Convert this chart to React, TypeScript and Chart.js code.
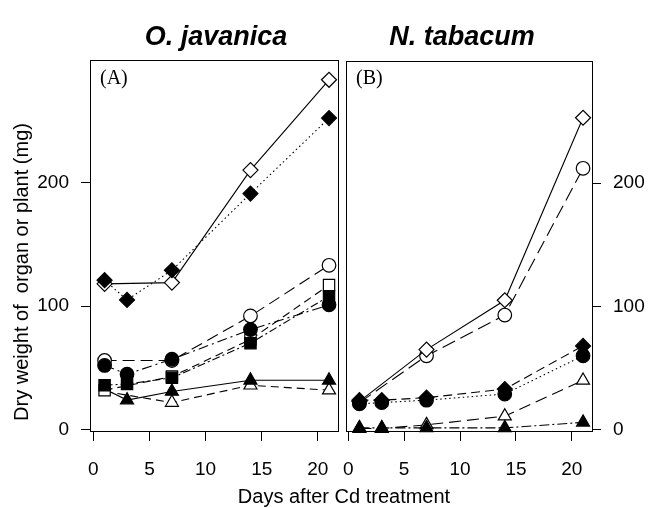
import React, { useEffect, useRef } from "react";
import { Chart, registerables } from "chart.js";
Chart.register(...registerables);

// ---------- data ----------
const days = [1, 3, 7, 14, 21];
const xTickValues = [0, 5, 10, 15, 20];
const yTickValues = [0, 100, 200];

const titleA = "O. javanica";
const titleB = "N. tabacum";
const labelA = "(A)";
const labelB = "(B)";
const yTitle = "Dry weight of  organ or plant (mg)";
const xTitle = "Days after Cd treatment";

// Panel A (O. javanica)
const aOpenDiamond = [118, null, 119, 210, 283];
const aFilledDiamond = [121, 105, 129, 191, 252];
const aOpenCircle = [56, null, 56, 92, 133];
const aFilledCircle = [52, 45, 57, 81, 101];
const aOpenSquare = [32, null, 43, 73, 117];
const aFilledSquare = [36, 37, 42, 70, 108];
const aFilledTriangle = [33, 24, 31, 40, 40];
const aOpenTriangle = [31, null, 22, 36, 32];

// Panel B (N. tabacum)
const bOpenDiamond = [23, null, 65, 105, 253];
const bOpenCircle = [22, null, 60, 93, 212];
const bFilledDiamond = [24, 24, 26, 33, 68];
const bFilledCircle = [21, 22, 24, 29, 60];
const bOpenTriangle = [1, 1, 4, 11, 40];
const bFilledTriangle = [1.5, 1.5, 1.5, 1.5, 6];

// ---------- helpers ----------
const SANS = '"Liberation Sans", Arial, sans-serif';

function pts(vals: (number | null)[]) {
  const out: { x: number; y: number }[] = [];
  vals.forEach((v, i) => {
    if (v !== null) out.push({ x: days[i], y: v });
  });
  return out;
}

function ds(
  vals: (number | null)[],
  style: string,
  filled: boolean,
  dash: number[],
  radius: number | number[]
) {
  return {
    data: pts(vals),
    showLine: true,
    pointStyle: style,
    pointRadius: radius,
    pointHoverRadius: radius,
    pointBackgroundColor: filled ? "#000" : "#fff",
    pointBorderColor: "#000",
    pointBorderWidth: 1.2,
    borderColor: "#000",
    borderWidth: 1.1,
    borderDash: dash,
    backgroundColor: filled ? "#000" : "#fff",
    clip: false as any,
    tension: 0,
  };
}

const R = { d: 7.5, c: 6.8, s: 8, t: 7.5 };

const framePlugin = {
  id: "frame",
  beforeDatasetsDraw(chart: any) {
    const a = chart.chartArea;
    const ctx = chart.ctx;
    ctx.save();
    ctx.strokeStyle = "#000";
    ctx.lineWidth = 1;
    ctx.strokeRect(a.left + 0.5, a.top + 0.5, a.right - a.left, a.bottom - a.top);
    ctx.restore();
  },
};

function textPlugin(title: string, titleX: number, label: string, withAxisTitles: boolean) {
  return {
    id: "panelText",
    afterDraw(chart: any) {
      const ctx = chart.ctx;
      const a = chart.chartArea;
      ctx.save();
      ctx.fillStyle = "#000";
      ctx.font = `italic bold 27px ${SANS}`;
      ctx.textAlign = "center";
      ctx.textBaseline = "alphabetic";
      ctx.fillText(title, titleX, 45);
      ctx.font = '20px "Liberation Serif", "Times New Roman", serif';
      ctx.textAlign = "left";
      ctx.textBaseline = "middle";
      ctx.fillText(label, a.left + 10, 79);
      if (withAxisTitles) {
        ctx.font = `20px ${SANS}`;
        ctx.textAlign = "center";
        ctx.textBaseline = "middle";
        ctx.fillText(xTitle, 344, 497);
        ctx.save();
        ctx.translate(22, 272);
        ctx.rotate(-Math.PI / 2);
        ctx.fillText(yTitle, 0, 0);
        ctx.restore();
      }
      ctx.restore();
    },
  };
}

function makeConfig(
  datasets: any[],
  side: "left" | "right",
  padding: any,
  xMin: number,
  xMax: number,
  yWidth: number,
  plugin: any
): any {
  return {
    type: "scatter",
    data: { datasets },
    options: {
      responsive: false,
      animation: false,
      events: [],
      layout: { padding },
      plugins: { legend: { display: false }, tooltip: { enabled: false }, title: { display: false } },
      scales: {
        x: {
          type: "linear",
          min: xMin,
          max: xMax,
          afterBuildTicks: (s: any) => {
            s.ticks = xTickValues.map((v) => ({ value: v }));
          },
          afterFit: (s: any) => {
            s.height = 77;
          },
          border: { display: false },
          grid: { drawOnChartArea: false, drawTicks: true, tickLength: 10, color: "#000", lineWidth: 1 },
          ticks: { color: "#000", font: { size: 19, family: SANS }, padding: 17, maxRotation: 0, autoSkip: false },
        },
        y: {
          type: "linear",
          position: side,
          min: -1,
          max: 299,
          afterBuildTicks: (s: any) => {
            s.ticks = yTickValues.map((v) => ({ value: v }));
          },
          afterFit: (s: any) => {
            s.width = yWidth;
          },
          border: { display: false },
          grid: { drawOnChartArea: false, drawTicks: true, tickLength: 9, color: "#000", lineWidth: 1 },
          ticks: { color: "#000", font: { size: 19, family: SANS }, padding: 12 },
        },
      },
    },
    plugins: [framePlugin, plugin],
  };
}

export default function App() {
  const refA = useRef<HTMLCanvasElement>(null);
  const refB = useRef<HTMLCanvasElement>(null);

  useEffect(() => {
    const datasetsA = [
      ds(aFilledDiamond, "rectRot", true, [1.5, 3], R.d),
      ds(aOpenDiamond, "rectRot", false, [], R.d),
      ds(aFilledCircle, "circle", true, [10, 4, 2, 4], R.c),
      ds(aOpenCircle, "circle", false, [12, 6], R.c),
      ds(aFilledSquare, "rect", true, [8, 3, 2, 3], R.s),
      ds(aOpenSquare, "rect", false, [8, 5], R.s),
      ds(aFilledTriangle, "triangle", true, [], [0, R.t, R.t, R.t, R.t]),
      ds(aOpenTriangle, "triangle", false, [8, 5], [0, R.t, R.t, R.t]),
    ];
    const datasetsB = [
      ds(bFilledDiamond, "rectRot", true, [9, 5], R.d),
      ds(bFilledCircle, "circle", true, [1.5, 3], R.c),
      ds(bOpenDiamond, "rectRot", false, [], R.d),
      ds(bOpenCircle, "circle", false, [14, 6], R.c),
      ds(bFilledTriangle, "triangle", true, [10, 3, 2, 3], R.t),
      ds(bOpenTriangle, "triangle", false, [12, 6], R.t),
    ];
    const chartA = new Chart(
      refA.current as HTMLCanvasElement,
      makeConfig(datasetsA, "left", { left: 0, top: 60, right: 312, bottom: 0 }, -0.3, 21.8, 90,
        textPlugin(titleA, 216, labelA, true))
    );
    const chartB = new Chart(
      refB.current as HTMLCanvasElement,
      makeConfig(datasetsB, "right", { left: 346, top: 61, right: 0, bottom: 0 }, -0.2, 21.8, 58,
        textPlugin(titleB, 462, labelB, false))
    );
    return () => {
      chartA.destroy();
      chartB.destroy();
    };
  }, []);

  const cs: React.CSSProperties = { position: "absolute", left: 0, top: 0, display: "block" };
  return (
    <div style={{ position: "fixed", left: 0, top: 0, width: 650, height: 508, background: "#fff" }}>
      <canvas ref={refA} width={650} height={508} style={cs} />
      <canvas ref={refB} width={650} height={508} style={cs} />
    </div>
  );
}
